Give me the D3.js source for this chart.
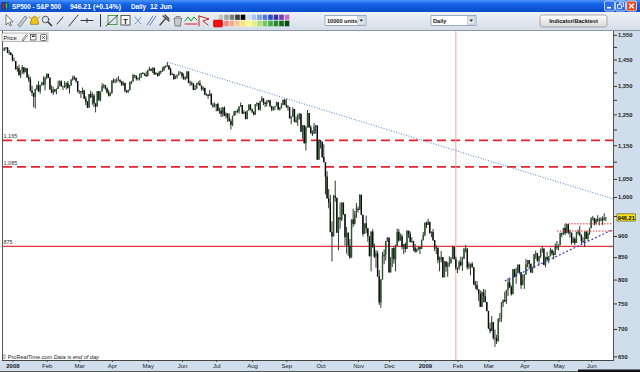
<!DOCTYPE html>
<html><head><meta charset="utf-8">
<script src="https://cdn.jsdelivr.net/npm/d3@7"></script>
<style>html,body{margin:0;padding:0;background:#fff;overflow:hidden}svg{display:block;font-family:"Liberation Sans",Arial,sans-serif}</style>
</head><body><svg id="c" width="640" height="372"></svg>
<script>
// ---------------- DATA ----------------
const monthDays = [
 ["2007-12","24 26 27 28 31"],
 ["2008-01","2 3 4 7 8 9 10 11 14 15 16 17 18 22 23 24 25 28 29 30 31"],
 ["2008-02","1 4 5 6 7 8 11 12 13 14 15 19 20 21 22 25 26 27 28 29"],
 ["2008-03","3 4 5 6 7 10 11 12 13 14 17 18 19 20 24 25 26 27 28 31"],
 ["2008-04","1 2 3 4 7 8 9 10 11 14 15 16 17 18 21 22 23 24 25 28 29 30"],
 ["2008-05","1 2 5 6 7 8 9 12 13 14 15 16 19 20 21 22 23 27 28 29 30"],
 ["2008-06","2 3 4 5 6 9 10 11 12 13 16 17 18 19 20 23 24 25 26 27 30"],
 ["2008-07","1 2 3 7 8 9 10 11 14 15 16 17 18 21 22 23 24 25 28 29 30 31"],
 ["2008-08","1 4 5 6 7 8 11 12 13 14 15 18 19 20 21 22 25 26 27 28 29"],
 ["2008-09","2 3 4 5 8 9 10 11 12 15 16 17 18 19 22 23 24 25 26 29 30"],
 ["2008-10","1 2 3 6 7 8 9 10 13 14 15 16 17 20 21 22 23 24 27 28 29 30 31"],
 ["2008-11","3 4 5 6 7 10 11 12 13 14 17 18 19 20 21 24 25 26 28"],
 ["2008-12","1 2 3 4 5 8 9 10 11 12 15 16 17 18 19 22 23 24 26 29 30 31"],
 ["2009-01","2 5 6 7 8 9 12 13 14 15 16 20 21 22 23 26 27 28 29 30"],
 ["2009-02","2 3 4 5 6 9 10 11 12 13 17 18 19 20 23 24 25 26 27"],
 ["2009-03","2 3 4 5 6 9 10 11 12 13 16 17 18 19 20 23 24 25 26 27 30 31"],
 ["2009-04","1 2 3 6 7 8 9 13 14 15 16 17 20 21 22 23 24 27 28 29 30"],
 ["2009-05","1 4 5 6 7 8 11 12 13 14 15 18 19 20 21 22 26 27 28 29"],
 ["2009-06","1 2 3 4 5 8 9 10 11 12"]
];
const monthNames = ["Jan","Feb","Mar","Apr","May","Jun","Jul","Aug","Sep","Oct","Nov","Dec"];

const opens = [
 1484,1496,1498,1476,1478,
 1468,1447,1444,1412,1416,1390,1409,1420,1401,1416,1381,1373,1333,1325,1311,1339,1352,1331,1354,1362,1356,
 1379,1395,1381,1337,1326,1337,1331,1339,1349,1367,1349,1350,1349,1360,1343,1353,1372,1381,1380,1368,
 1331,1331,1327,1334,1304,1293,1273,1321,1309,1315,1288,1277,1331,1298,1330,1350,1353,1341,1326,1315,
 1323,1370,1368,1369,1370,1373,1366,1354,1361,1333,1328,1334,1365,1366,1390,1388,1376,1380,1389,1398,1396,1391,
 1386,1409,1414,1407,1418,1393,1398,1388,1404,1403,1409,1424,1425,1427,1413,1391,1394,1376,1385,1391,1398,
 1400,1386,1378,1377,1404,1361,1362,1358,1335,1340,1360,1360,1351,1338,1343,1318,1318,1314,1322,1283,1278,
 1280,1285,1262,1263,1252,1274,1245,1253,1239,1228,1215,1245,1260,1261,1260,1277,1282,1253,1258,1234,1263,1284,
 1267,1260,1249,1285,1289,1266,1296,1305,1290,1286,1293,1298,1279,1267,1275,1278,1292,1267,1272,1282,1301,
 1283,1278,1275,1237,1242,1268,1225,1232,1249,1252,1193,1214,1156,1207,1255,1207,1188,1186,1209,1213,1106,
 1166,1161,1114,1099,1057,996,985,910,899,1003,998,908,946,941,985,955,897,908,877,849,941,930,954,
 969,966,1006,953,905,931,919,899,852,911,873,851,859,807,752,800,852,857,888,
 896,816,849,871,845,876,910,889,899,874,880,869,913,904,885,888,872,863,868,873,869,891,
 903,932,927,935,907,910,890,870,872,843,844,850,805,840,828,832,837,846,874,845,
 826,825,839,832,846,869,870,827,834,835,827,789,788,779,770,743,773,765,753,
 735,701,696,713,683,683,677,720,721,751,757,754,778,794,784,769,823,806,814,833,816,788,
 798,811,834,843,835,816,825,857,859,842,852,865,870,832,850,844,852,866,858,855,874,
 873,878,907,904,920,907,929,909,908,884,893,883,910,908,903,888,887,910,893,907,
 919,943,945,932,942,940,939,942,939,945
];
const highs = [
 1498,1499,1498,1488,1478,
 1472,1457,1444,1424,1430,1409,1429,1420,1418,1416,1392,1384,1351,1325,1340,1355,1368,1354,1365,1385,1385,
 1396,1395,1381,1352,1347,1338,1341,1369,1371,1370,1350,1368,1363,1368,1354,1376,1388,1388,1380,1368,
 1335,1331,1344,1334,1313,1296,1321,1333,1327,1321,1288,1331,1331,1330,1360,1357,1353,1345,1336,1328,
 1370,1378,1375,1380,1386,1373,1368,1367,1361,1335,1337,1365,1369,1395,1390,1388,1381,1396,1399,1402,1397,1404,
 1410,1422,1415,1419,1418,1402,1398,1404,1407,1420,1424,1427,1440,1427,1419,1399,1394,1388,1392,1405,1404,
 1400,1396,1385,1404,1404,1370,1366,1361,1354,1361,1367,1371,1351,1348,1343,1323,1321,1335,1322,1289,1291,
 1285,1290,1272,1274,1274,1277,1257,1253,1254,1234,1246,1262,1263,1268,1277,1291,1282,1264,1260,1263,1284,1284,
 1270,1260,1285,1292,1289,1297,1313,1306,1294,1300,1300,1300,1279,1277,1279,1294,1292,1275,1289,1301,1301,
 1304,1281,1275,1244,1274,1268,1243,1250,1255,1252,1214,1214,1211,1265,1255,1214,1197,1221,1215,1213,1167,
 1166,1161,1153,1099,1072,1022,1006,936,1006,1045,998,947,985,986,985,955,922,908,893,941,969,963,984,
 975,1007,1006,953,931,951,919,899,911,917,882,866,865,821,801,862,868,888,897,
 896,850,871,875,879,918,917,906,904,881,884,914,913,911,897,888,881,870,874,874,891,910,
 934,936,943,935,911,917,890,877,872,851,864,850,841,840,839,852,850,877,874,851,
 826,843,851,851,871,878,870,839,835,839,827,797,797,779,777,775,780,779,753,
 735,712,725,713,699,689,720,731,753,758,774,778,803,804,788,823,823,826,833,833,816,811,
 812,846,843,843,835,828,857,865,859,853,870,876,870,851,862,852,872,868,864,882,888,
 880,908,908,920,930,930,929,915,908,898,897,910,916,925,903,897,911,913,909,920,
 947,950,945,943,952,946,947,949,957,947
];
const lows = [
 1484,1489,1475,1468,1466,
 1442,1444,1411,1403,1388,1379,1395,1393,1401,1380,1364,1330,1313,1274,1270,1334,1328,1322,1351,1352,1334,
 1375,1379,1336,1324,1317,1326,1320,1339,1349,1347,1335,1343,1337,1340,1322,1350,1369,1373,1362,1326,
 1321,1307,1320,1303,1282,1272,1273,1307,1283,1275,1257,1277,1298,1295,1330,1341,1336,1323,1312,1313,
 1323,1360,1360,1362,1369,1360,1350,1351,1327,1324,1325,1334,1357,1366,1379,1370,1370,1370,1379,1394,1387,1383,
 1386,1406,1404,1398,1391,1392,1384,1386,1394,1403,1405,1417,1421,1409,1388,1391,1372,1375,1377,1388,1396,
 1377,1372,1371,1377,1360,1350,1351,1335,1335,1340,1354,1351,1333,1331,1317,1316,1304,1314,1283,1272,1274,
 1260,1261,1252,1241,1242,1244,1236,1225,1226,1200,1211,1245,1247,1255,1252,1276,1251,1252,1234,1234,1263,1264,
 1254,1247,1249,1278,1264,1263,1293,1282,1275,1277,1291,1274,1261,1262,1265,1278,1264,1263,1270,1282,1282,
 1272,1263,1236,1217,1242,1224,1221,1212,1233,1192,1170,1156,1134,1207,1205,1187,1179,1186,1187,1106,1106,
 1140,1111,1098,1007,996,970,909,840,899,987,907,866,918,937,952,877,858,853,846,849,922,928,945,
 959,966,952,899,905,907,886,852,818,872,848,826,806,747,741,800,834,842,886,
 815,815,828,835,818,876,886,889,868,857,861,869,895,885,884,864,860,861,866,857,869,889,
 899,919,927,906,897,888,864,857,836,818,838,804,805,817,806,828,835,846,845,821,
 814,821,829,819,846,861,822,823,809,826,789,780,777,755,743,743,752,752,734,
 700,692,696,680,667,672,677,713,714,743,753,749,765,782,766,769,805,791,814,813,780,788,
 780,811,827,822,814,814,825,846,839,831,848,860,832,827,840,836,852,854,845,855,867,
 866,878,897,903,902,907,904,896,879,883,878,883,903,899,879,883,874,893,888,903,
 919,938,926,928,935,926,936,927,939,937
];
const closes = [
 1496,1498,1476,1478,1468,
 1447,1447,1412,1416,1390,1409,1420,1401,1416,1381,1373,1333,1325,1311,1339,1352,1331,1354,1362,1356,1379,
 1395,1381,1337,1326,1337,1331,1339,1349,1367,1349,1350,1349,1360,1343,1353,1372,1381,1380,1368,1331,
 1331,1327,1334,1304,1293,1273,1321,1309,1315,1288,1277,1331,1298,1330,1350,1353,1341,1326,1315,1323,
 1370,1368,1369,1370,1373,1366,1354,1361,1333,1328,1334,1365,1366,1390,1388,1376,1380,1389,1398,1396,1391,1386,
 1409,1414,1407,1418,1393,1398,1388,1404,1403,1409,1424,1425,1427,1413,1391,1394,1376,1385,1391,1398,1400,
 1386,1378,1377,1404,1361,1362,1358,1335,1340,1360,1360,1351,1338,1343,1318,1318,1314,1322,1283,1278,1280,
 1285,1262,1263,1252,1274,1245,1253,1239,1228,1215,1245,1260,1261,1260,1277,1282,1253,1258,1234,1263,1284,1267,
 1260,1249,1285,1289,1266,1296,1305,1290,1286,1293,1298,1279,1267,1275,1278,1292,1267,1272,1282,1301,1283,
 1278,1275,1237,1242,1268,1225,1232,1249,1252,1193,1214,1156,1207,1255,1207,1188,1186,1209,1213,1106,1166,
 1161,1114,1099,1057,996,985,910,899,1003,998,908,946,941,985,955,897,908,877,849,941,930,954,969,
 966,1006,953,905,931,919,899,852,911,873,851,859,807,752,800,852,857,888,896,
 816,849,871,845,876,910,889,899,874,880,869,913,904,885,888,872,863,868,873,869,891,903,
 932,927,935,907,910,890,870,872,843,844,850,805,840,828,832,837,846,874,845,826,
 825,839,832,846,869,870,827,834,835,827,789,788,779,770,743,773,765,753,735,
 701,696,713,683,683,677,720,721,751,757,754,778,794,784,769,823,806,814,833,816,788,798,
 811,834,843,835,816,825,857,859,842,852,865,870,832,850,844,852,866,858,855,874,873,
 878,907,904,920,907,929,909,908,884,893,883,910,908,903,888,887,910,893,907,919,
 943,945,932,942,940,939,942,939,945,946.21
];

const yTickValues = [650,700,750,800,850,900,950,1000,1050,1100,1150,1200,1250,1300,1350,1400,1450,1500,1550];
const yLabelValues = [650,700,750,800,850,900,1000,1050,1150,1250,1350,1450,1550];
const levelValues = [1165, 1085, 875];
const levelLabels = ["1,165", "1,085", "875"];
// trend lines: [bar index, price]
const resistanceLine = [[100, 1440], [373.4, 995]];
const supportLine = [[307, 797], [373.4, 916]];
const rangeTop = [[344, 930], [373.4, 930]];
const rangeBottom = [[339, 912], [373.4, 912]];
const markerBar = 277;
const titleParts = ["SP500 - S&P 500", "946.21 (+0.14%)", "Daily", "12 Jun"];

// ---------------- BUILD ----------------
const dates = [];
monthDays.forEach(([m, ds]) => ds.split(" ").forEach(d => dates.push(m + "-" + d.padStart(2, "0"))));
const N = Math.min(dates.length, opens.length, highs.length, lows.length, closes.length);
const bars = d3.range(N).map(i => ({i, date: dates[i], o: opens[i], h: highs[i], l: lows[i], c: closes[i]}));

const plot = {l: 3, r: 613, t: 31, b: 360};
const x = d3.scaleLinear().domain([-0.8, 373.4]).range([plot.l, plot.r]);
const y = d3.scaleLog().domain([643.7, 1566]).range([plot.b, plot.t]);

const svg = d3.select("#c");
const defs = svg.append("defs");
const tg = defs.append("linearGradient").attr("id", "titleG").attr("x1", 0).attr("y1", 0).attr("x2", 0).attr("y2", 1);
tg.append("stop").attr("offset", 0).attr("stop-color", "#4a92f8");
tg.append("stop").attr("offset", 0.35).attr("stop-color", "#1462e6");
tg.append("stop").attr("offset", 1).attr("stop-color", "#0a4cc8");
const tbg = defs.append("linearGradient").attr("id", "tbG").attr("x1", 0).attr("y1", 0).attr("x2", 0).attr("y2", 1);
tbg.append("stop").attr("offset", 0).attr("stop-color", "#eef2f6");
tbg.append("stop").attr("offset", 1).attr("stop-color", "#d3dde7");
const btg = defs.append("linearGradient").attr("id", "btnG").attr("x1", 0).attr("y1", 0).attr("x2", 0).attr("y2", 1);
btg.append("stop").attr("offset", 0).attr("stop-color", "#ffffff");
btg.append("stop").attr("offset", 1).attr("stop-color", "#d8d8d8");
defs.append("clipPath").attr("id", "clipP").append("rect")
  .attr("x", plot.l).attr("y", plot.t).attr("width", plot.r - plot.l).attr("height", plot.b - plot.t);

svg.append("rect").attr("width", 640).attr("height", 372).attr("fill", "#fff");

// ---- plot content ----
const pg = svg.append("g").attr("clip-path", "url(#clipP)");

levelValues.forEach((v, k) => {
  pg.append("line").attr("x1", plot.l).attr("x2", plot.r).attr("y1", y(v)).attr("y2", y(v))
    .attr("stroke", k < 2 ? "#e4232b" : "#e8343a").attr("stroke-width", k < 2 ? 1.8 : 1.4)
    .attr("stroke-dasharray", k < 2 ? "9,5" : null);
  pg.append("text").attr("x", plot.l + 0.5).attr("y", y(v) - 2).text(levelLabels[k])
    .attr("font-size", 5.5).attr("fill", "#333");
});

pg.append("line").attr("x1", x(markerBar)).attr("x2", x(markerBar)).attr("y1", plot.t).attr("y2", plot.b)
  .attr("stroke", "#f2a6a6").attr("stroke-width", 1);

const cg = pg.append("g");
cg.selectAll("line.w").data(bars).join("line").attr("class", "w")
  .attr("x1", d => x(d.i)).attr("x2", d => x(d.i))
  .attr("y1", d => y(d.h)).attr("y2", d => y(d.l))
  .attr("stroke", "#162216").attr("stroke-width", 0.9);
cg.selectAll("rect.b").data(bars).join("rect").attr("class", "b")
  .attr("x", d => x(d.i) - 0.7).attr("width", 1.4)
  .attr("y", d => y(Math.max(d.o, d.c)))
  .attr("height", d => Math.max(0.8, y(Math.min(d.o, d.c)) - y(Math.max(d.o, d.c))))
  .attr("fill", d => d.c >= d.o ? "#27572a" : "#0a0a0a");

const ln = d3.line().x(p => x(p[0])).y(p => y(p[1]));
pg.append("path").attr("d", ln(resistanceLine)).attr("fill", "none")
  .attr("stroke", "#4b7fdc").attr("stroke-width", 1).attr("stroke-dasharray", "1,1.6");
pg.append("path").attr("d", ln(supportLine)).attr("fill", "none")
  .attr("stroke", "#4040c8").attr("stroke-width", 1.2).attr("stroke-dasharray", "2,2");
[rangeTop, rangeBottom].forEach(r => pg.append("path").attr("d", ln(r)).attr("fill", "none")
  .attr("stroke", "#e0303a").attr("stroke-width", 1).attr("stroke-dasharray", "1.5,1.5"));

const cr = svg.append("text").attr("x", 2).attr("y", 358.5).attr("font-size", 5.6).attr("fill", "#222");
cr.append("tspan").text("© ProRealTime.com  ");
cr.append("tspan").attr("font-style", "italic").text("Data is end of day");

svg.append("line").attr("x1", 2.5).attr("x2", 2.5).attr("y1", plot.t).attr("y2", plot.b).attr("stroke", "#555");

// ---- axis panels ----
svg.append("rect").attr("x", plot.r).attr("y", plot.t).attr("width", 640 - plot.r).attr("height", 372 - plot.t).attr("fill", "#cfdeea");
svg.append("rect").attr("x", 0).attr("y", plot.b).attr("width", 640).attr("height", 372 - plot.b).attr("fill", "#cfdeea");
svg.append("line").attr("x1", plot.r + 0.5).attr("x2", plot.r + 0.5).attr("y1", plot.t).attr("y2", plot.b + 1).attr("stroke", "#555");
svg.append("line").attr("x1", 2).attr("x2", plot.r + 1).attr("y1", plot.b + 0.5).attr("y2", plot.b + 0.5).attr("stroke", "#444");

const labelSet = new Set(yLabelValues);
const yAxis = d3.axisRight(y).tickValues(yTickValues).tickSize(3).tickPadding(1)
  .tickFormat(v => labelSet.has(v) ? d3.format(",")(v) : "");
const yg = svg.append("g").attr("transform", `translate(${plot.r + 1},0)`).call(yAxis);
yg.select(".domain").remove();
yg.selectAll(".tick line").attr("stroke", "#333");
yg.selectAll("text").attr("font-size", 5.8).attr("font-weight", "bold").attr("fill", "#222")
  .attr("font-family", "Liberation Sans, Arial, sans-serif");

const last = bars[bars.length - 1];
svg.append("rect").attr("x", 617).attr("y", y(last.c) - 3.6).attr("width", 18.5).attr("height", 7.2)
  .attr("fill", "#f4e21c").attr("stroke", "#5a5000").attr("stroke-width", 0.6);
svg.append("text").attr("x", 626.2).attr("y", y(last.c) + 2.1).attr("text-anchor", "middle")
  .attr("font-size", 5.6).attr("font-weight", "bold").attr("fill", "#000").text(d3.format(".2f")(last.c));

// ---- bottom axis ----
const monthStarts = [];
dates.forEach((d, i) => {
  const m = d.slice(0, 7);
  if (i === 0 || dates[i - 1].slice(0, 7) !== m) monthStarts.push({i, m});
});
const ticks = monthStarts.filter(s => s.m >= "2008-01");
const tickLabel = new Map(ticks.map(s => {
  const mm = +s.m.slice(5, 7);
  return [s.i, mm === 1 ? s.m.slice(0, 4) : monthNames[mm - 1]];
}));
const xAxis = d3.axisBottom(x).tickValues(ticks.map(s => s.i)).tickSize(2).tickPadding(1)
  .tickFormat(i => tickLabel.get(i));
const xg = svg.append("g").attr("transform", `translate(0,${plot.b})`).call(xAxis);
xg.select(".domain").remove();
xg.selectAll(".tick line").attr("stroke", "#444");
xg.selectAll("text").attr("font-size", 6).attr("fill", "#1a1a30").attr("dy", "0.9em")
  .attr("font-family", "Liberation Sans, Arial, sans-serif")
  .attr("font-weight", i => /^\d{4}$/.test(tickLabel.get(i)) ? "bold" : "normal");
svg.append("rect").attr("x", 0).attr("y", 371).attr("width", 640).attr("height", 1).attr("fill", "#555");
svg.append("rect").attr("x", 578).attr("y", 369.5).attr("width", 62).attr("height", 2.5).attr("fill", "#111");

// ---- title bar ----
svg.append("rect").attr("x", 0).attr("y", 0).attr("width", 640).attr("height", 12).attr("fill", "url(#titleG)");
svg.append("rect").attr("x", 1.5).attr("y", 2).attr("width", 7).attr("height", 8).attr("fill", "#0a3a9a");
svg.append("line").attr("x1", 3.5).attr("x2", 3.5).attr("y1", 2.5).attr("y2", 9.5).attr("stroke", "#e02020");
svg.append("rect").attr("x", 2.6).attr("y", 4).attr("width", 1.8).attr("height", 3.5).attr("fill", "#e02020");
svg.append("line").attr("x1", 6.5).attr("x2", 6.5).attr("y1", 2.5).attr("y2", 9.5).attr("stroke", "#20d020");
svg.append("rect").attr("x", 5.6).attr("y", 3.5).attr("width", 1.8).attr("height", 4).attr("fill", "#20d020");
const tx = [12, 70, 131, 150];
const tw = [49, 51, 15, 22];
titleParts.forEach((t, k) => svg.append("text").attr("x", tx[k]).attr("y", 9).text(t)
  .attr("font-size", 7.2).attr("font-weight", "bold").attr("fill", "#fff")
  .attr("textLength", tw[k]).attr("lengthAdjust", "spacingAndGlyphs"));
[[604.5, "#2f6ee8"], [615.5, "#2f6ee8"], [626.5, "#e0502a"]].forEach(([bx, col], k) => {
  svg.append("rect").attr("x", bx).attr("y", 1).attr("width", 10).attr("height", 10).attr("rx", 1.5)
    .attr("fill", col).attr("stroke", "#fff").attr("stroke-width", 0.7);
  if (k === 0) svg.append("rect").attr("x", bx + 2.5).attr("y", 7).attr("width", 4).attr("height", 1.5).attr("fill", "#fff");
  if (k === 1) {
    svg.append("rect").attr("x", bx + 4).attr("y", 2.8).attr("width", 4).attr("height", 3.5).attr("fill", "none").attr("stroke", "#fff").attr("stroke-width", 0.8);
    svg.append("rect").attr("x", bx + 2).attr("y", 4.8).attr("width", 4).attr("height", 3.5).attr("fill", col).attr("stroke", "#fff").attr("stroke-width", 0.8);
  }
  if (k === 2) svg.append("path").attr("d", `M${bx + 2.8},3.8 L${bx + 7.2},8.2 M${bx + 7.2},3.8 L${bx + 2.8},8.2`)
    .attr("stroke", "#fff").attr("stroke-width", 1.3);
});

// ---- toolbar ----
svg.append("rect").attr("x", 0).attr("y", 12).attr("width", 640).attr("height", 19).attr("fill", "url(#tbG)");
svg.append("line").attr("x1", 0).attr("x2", 640).attr("y1", 30.5).attr("y2", 30.5).attr("stroke", "#8a98a8");
const tb = svg.append("g").attr("stroke-linecap", "round");
tb.append("path").attr("d", "M6,15 L6,25 L8.3,22.7 L10.2,26 L11.5,25.3 L9.7,22 L12.7,21.8 Z").attr("fill", "#fff").attr("stroke", "#222").attr("stroke-width", 0.6);
tb.append("path").attr("d", "M18,25 L25,16 L27.2,17.8 L20.2,26.8 Z").attr("fill", "#c8ccd4").attr("stroke", "#555").attr("stroke-width", 0.6);
tb.append("path").attr("d", "M30.5,24 Q31,17 34.5,16.2 Q38,17 38.5,24 Z").attr("fill", "#f2c418").attr("stroke", "#7a5a00").attr("stroke-width", 0.6);
tb.append("path").attr("d", "M29,17 L31,18 M40,17 L38,18").attr("stroke", "#c08000").attr("stroke-width", 0.8);
tb.append("circle").attr("cx", 45.5).attr("cy", 19.5).attr("r", 3.3).attr("fill", "#dde8f4").attr("stroke", "#333").attr("stroke-width", 0.8);
tb.append("path").attr("d", "M48,22 L51.5,25.5").attr("stroke", "#333").attr("stroke-width", 1.6);
tb.append("path").attr("d", "M57,24 L63,17").attr("stroke", "#222").attr("stroke-width", 0.9);
tb.append("path").attr("d", "M69,26 L78,15").attr("stroke", "#222").attr("stroke-width", 0.9);
tb.append("path").attr("d", "M81,20.5 L93,20.5 M87,18.5 L87,22.5").attr("stroke", "#222").attr("stroke-width", 0.9);
tb.append("path").attr("d", "M100.5,14.5 L100.5,26.5").attr("stroke", "#222").attr("stroke-width", 0.9);
tb.append("rect").attr("x", 108).attr("y", 15.5).attr("width", 9).attr("height", 9).attr("fill", "none").attr("stroke", "#2a8a2a").attr("stroke-width", 0.8);
tb.append("path").attr("d", "M106,26 L118,15").attr("stroke", "#222").attr("stroke-width", 0.8);
tb.append("rect").attr("x", 121).attr("y", 15.5).attr("width", 9).attr("height", 9.5).attr("fill", "#fff").attr("stroke", "#333").attr("stroke-width", 0.8);
tb.append("text").attr("x", 125.5).attr("y", 23.5).attr("text-anchor", "middle").attr("font-size", 8).attr("font-weight", "bold").attr("fill", "#222").text("T");
tb.append("path").attr("d", "M135,17 L141,24 M141,17 L135,24").attr("stroke", "#4a6ad0").attr("stroke-width", 0.8).attr("stroke-dasharray", "1,1");
tb.append("path").attr("d", "M147,25 L153,16 M150,25 L156,16").attr("stroke", "#4a6ad0").attr("stroke-width", 0.9);
tb.append("path").attr("d", "M160,25 L166,18 M163,16 L169,21 M165,15 L169,19").attr("stroke", "#444").attr("stroke-width", 1.3);
tb.append("path").attr("d", "M174.5,18 L181.5,18 L180.5,26 L175.5,26 Z M176,16.5 L180,16.5").attr("fill", "#c8ccd0").attr("stroke", "#555").attr("stroke-width", 0.7);
tb.append("path").attr("d", "M185,21 L188,17 L191,21 L194,17 L197,20").attr("fill", "none").attr("stroke", "#1a9a1a").attr("stroke-width", 1);
tb.append("path").attr("d", "M185,24 L197,24").attr("stroke", "#e02020").attr("stroke-width", 1);
tb.append("path").attr("d", "M199,16 L209,19 L203,21 L208,25 M199,16 L199,26").attr("fill", "none").attr("stroke", "#d02020").attr("stroke-width", 1);
const palTop = ["#e6e6e6","#c4c4c4","#a4a4a4","#7a7a7a","#3a3a3a","#000000","#d0e0f4","#a8c4ec","#7aa0e4","#4a78d8","#2a4cc4","#3a2aa8","#7a3ab0","#c070c8"];
const palBot = ["#ff1010","#e04848","#f08a8a","#f4aa88","#f6c890","#f8e468","#fff888","#e4f08a","#b0e070","#70c860","#48a848","#2a8a2a","#14661a","#0a4a10"];
palTop.forEach((c, k) => svg.append("rect").attr("x", 213 + k * 5.5).attr("y", 14.5).attr("width", 5).attr("height", 5.5).attr("fill", c).attr("stroke", "#fff").attr("stroke-width", 0.3));
palBot.forEach((c, k) => svg.append("rect").attr("x", 213 + k * 5.5).attr("y", 20.5).attr("width", 5).attr("height", 6).attr("fill", c).attr("stroke", "#fff").attr("stroke-width", 0.3));
svg.append("rect").attr("x", 214).attr("y", 20).attr("width", 8).attr("height", 7).attr("fill", "#ff1010").attr("stroke", "#a00").attr("stroke-width", 0.5);

function dropdown(x0, w, label) {
  svg.append("rect").attr("x", x0).attr("y", 15.5).attr("width", w).attr("height", 10).attr("fill", "#fff").attr("stroke", "#7f9db9").attr("stroke-width", 0.8);
  svg.append("text").attr("x", x0 + 2).attr("y", 22.7).attr("font-size", 5.6).attr("font-weight", "bold").attr("fill", "#111").text(label);
  svg.append("rect").attr("x", x0 + w - 8.5).attr("y", 16.5).attr("width", 7.5).attr("height", 8).attr("fill", "#dde3ea").attr("stroke", "#aab").attr("stroke-width", 0.4);
  svg.append("path").attr("d", `M${x0 + w - 6.5},19.5 L${x0 + w - 3},19.5 L${x0 + w - 4.75},21.8 Z`).attr("fill", "#222");
}
dropdown(325, 41, "10000 units");
dropdown(431, 45, "Daily");
svg.append("rect").attr("x", 540).attr("y", 15).attr("width", 67).attr("height", 12).attr("rx", 2.5)
  .attr("fill", "url(#btnG)").attr("stroke", "#8a8a8a").attr("stroke-width", 0.7);
svg.append("text").attr("x", 573.5).attr("y", 22.8).attr("text-anchor", "middle").attr("font-size", 5.6)
  .attr("font-weight", "bold").attr("fill", "#111").text("Indicator/Backtest");

svg.append("rect").attr("x", 2).attr("y", 33).attr("width", 46).attr("height", 8.5).attr("fill", "#f4f4f4").attr("stroke", "#8a8a8a").attr("stroke-width", 0.6);
svg.append("text").attr("x", 3.5).attr("y", 39.7).attr("font-size", 5.8).attr("fill", "#111").text("Price");
svg.append("path").attr("d", "M22,40 L26.5,34.5 L27.5,35.5 L23,41 Z").attr("fill", "none").attr("stroke", "#333").attr("stroke-width", 0.6);
svg.append("rect").attr("x", 30.5).attr("y", 34.5).attr("width", 5.5).attr("height", 5.5).attr("fill", "#fff").attr("stroke", "#333").attr("stroke-width", 0.7);
svg.append("rect").attr("x", 31.8).attr("y", 35.5).attr("width", 3).attr("height", 1.5).attr("fill", "#333");
svg.append("rect").attr("x", 40.5).attr("y", 34.5).attr("width", 6).attr("height", 6).attr("rx", 1).attr("fill", "#fff").attr("stroke", "#333").attr("stroke-width", 0.7);
svg.append("path").attr("d", "M42,36 L45,39 M45,36 L42,39").attr("stroke", "#333").attr("stroke-width", 0.8);
</script>
</body></html>
